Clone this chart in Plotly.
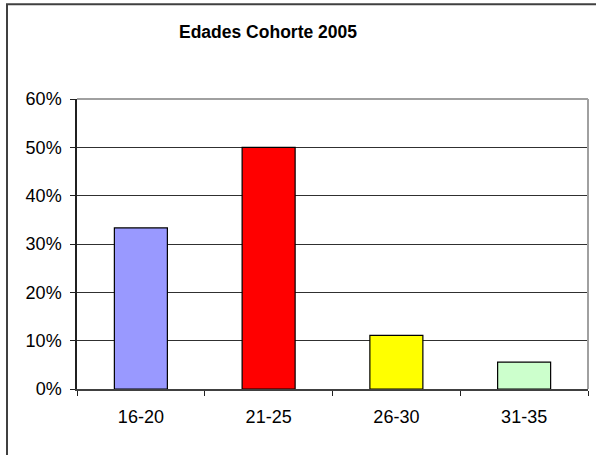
import plotly.graph_objects as go

categories = ["16-20", "21-25", "26-30", "31-35"]
values = [0.3333, 0.50, 0.1111, 0.0556]
colors = ["#9999FF", "#FF0000", "#FFFF00", "#CCFFCC"]
y_ticks = [0, 0.1, 0.2, 0.3, 0.4, 0.5, 0.6]
title_text = "Edades Cohorte 2005"

W, H = 596, 455
L, R, T, B = 77, 8, 99, 66
pw, ph = W - L - R, H - T - B

def px_x(x):
    return (x - L) / pw

def px_y(y):
    return (H - B - y) / ph

fig = go.Figure(go.Bar(
    x=categories, y=values,
    marker=dict(color=colors, line=dict(color="#000000", width=1.2)),
))

font = "Liberation Sans, Arial, sans-serif"
fig.update_layout(
    width=W, height=H,
    margin=dict(l=L, r=R, t=T, b=B),
    paper_bgcolor="white", plot_bgcolor="white",
    bargap=0.585,
    showlegend=False,
    font=dict(family=font, size=18, color="#000000"),
    title=dict(text="<b>" + title_text + "</b>", xref="container", yref="container",
               x=268 / W, xanchor="center", y=1 - 32 / H, yanchor="middle",
               font=dict(family=font, size=17.5, color="#000000")),
    xaxis=dict(type="category", showline=True, linecolor="#404040", linewidth=1.5,
               ticks="outside", ticklen=5, tickcolor="#202020", tickwidth=1.2,
               tickson="boundaries", showgrid=False, ticklabelstandoff=11,
               tickfont=dict(family=font, size=18)),
    yaxis=dict(range=[0, 0.6], tickvals=y_ticks, tickformat=".0%",
               showline=True, linecolor="#202020", linewidth=1.5,
               ticks="outside", ticklen=5, tickcolor="#202020", tickwidth=1.2,
               showgrid=True, gridcolor="#303030", gridwidth=1, zeroline=False,
               ticklabelstandoff=5, tickfont=dict(family=font, size=18)),
    shapes=[
        dict(type="line", xref="paper", yref="paper", x0=0, x1=1, y0=1, y1=1,
             line=dict(color="#a0a0a0", width=2)),
        dict(type="line", xref="paper", yref="paper", x0=1, x1=1, y0=0, y1=1,
             line=dict(color="#a0a0a0", width=2)),
        dict(type="line", xref="paper", yref="paper", x0=px_x(7), x1=px_x(7),
             y0=px_y(4), y1=px_y(470), line=dict(color="#404040", width=2)),
        dict(type="line", xref="paper", yref="paper", x0=px_x(6), x1=px_x(610),
             y0=px_y(4.3), y1=px_y(4.3), line=dict(color="#404040", width=2)),
    ],
)

fig.write_html("out.html", config={"displayModeBar": False},
               post_script="document.body.style.margin='0';")
